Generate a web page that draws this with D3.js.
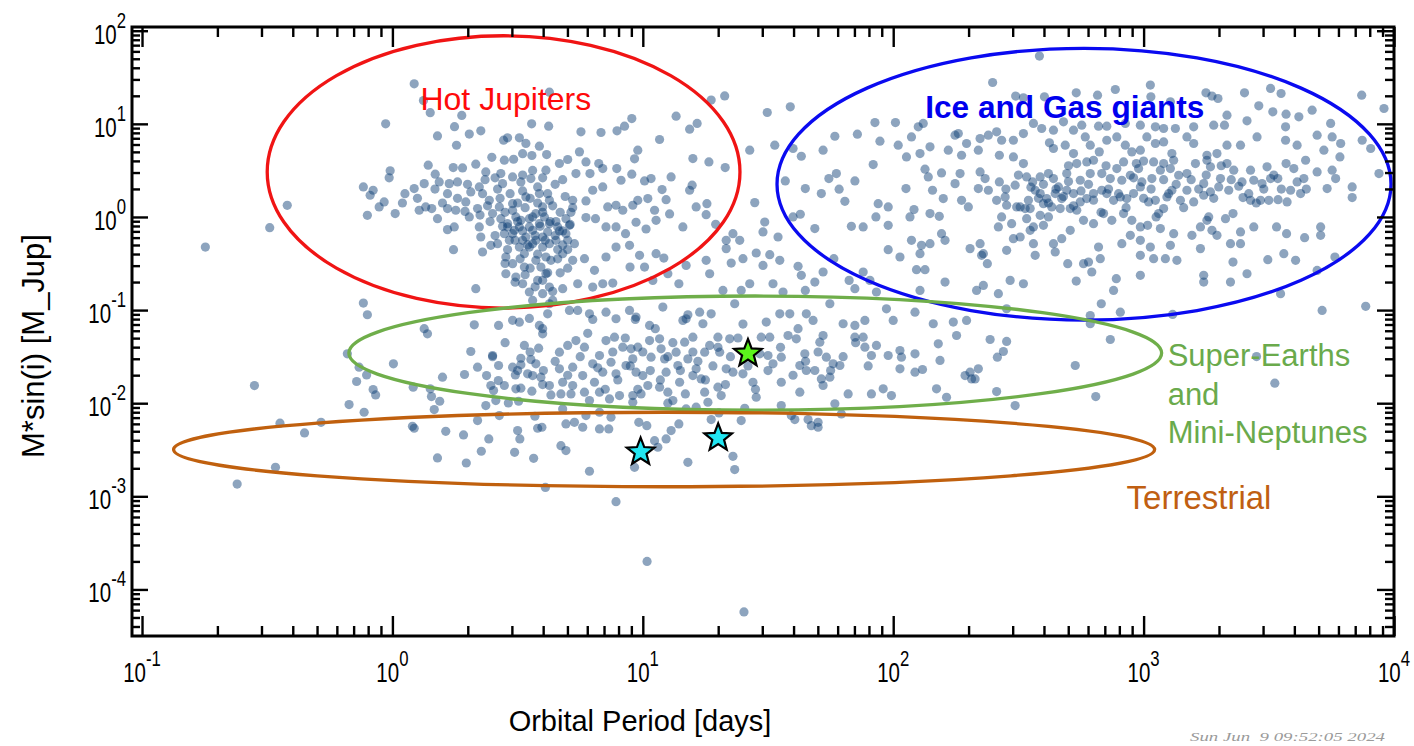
<!DOCTYPE html>
<html><head><meta charset="utf-8">
<script src="https://cdn.jsdelivr.net/npm/d3@7"></script>
<style>body{margin:0;background:#fff}svg{display:block}</style>
</head><body><svg id="c" width="1414" height="746"></svg>
<script>
// ---------- tick labels (decade exponents) ----------
const xTickExponents = [-1, 0, 1, 2, 3, 4];
const yTickExponents = [-4, -3, -2, -1, 0, 1, 2];

// ---------- planets: [log10(period in days), log10(M sin i in M_Jup)] ----------
const hotJupiterZone = [[0.087,1.43],[-0.027,1.00],[0.151,1.12],[0.124,1.25],[0.248,0.97],[0.277,1.09],[0.307,0.89],[0.18,0.87],[0.353,0.925],[0.256,0.77],[0.556,1.00],[0.624,0.975],[0.627,1.34],[0.444,0.825],[0.507,0.85],[0.533,0.79],[0.587,0.76],[0.46,0.85],[0.397,0.64],[0.447,0.61],[0.484,0.62],[0.52,0.68],[0.557,0.66],[0.616,0.67],[0.333,0.567],[0.373,0.484],[0.143,0.556],[0.243,0.53],[0.28,0.527],[0.171,0.459],[-0.009,0.495],[-0.013,0.42],[-0.116,0.323],[-0.077,0.287],[-0.089,0.233],[-0.033,0.161],[-0.053,0.108],[-0.1,0.018],[0.011,0.036],[0.04,0.15],[0.087,0.305],[0.127,0.358],[0.187,0.376],[0.227,0.358],[0.26,0.376],[0.133,0.108],[0.107,0.072],[0.157,0.09],[0.18,-0.018],[0.22,0.09],[0.253,0.072],[0.22,-0.136],[0.247,-0.107],[0.244,-0.351],[0.293,0.161],[0.307,0.0],[0.34,0.09],[0.347,-0.107],[0.353,-0.215],[0.36,-0.376],[0.393,-0.305],[0.333,-0.77],[0.313,0.269],[0.347,0.323],[0.387,0.179],[0.427,0.108],[0.40,0.036],[0.433,-0.018],[0.46,-0.072],[0.487,-0.143],[0.513,-0.036],[0.547,-0.107],[0.573,0.036],[0.60,0.108],[0.627,0.179],[0.627,-0.072],[0.44,0.358],[0.433,0.466],[0.48,0.43],[0.513,0.376],[0.553,0.412],[0.58,0.323],[0.613,0.502],[0.587,0.251],[0.533,0.215],[0.48,0.143],[0.447,-0.179],[0.42,-0.287],[0.467,-0.251],[0.507,-0.323],[0.56,-0.287],[0.60,-0.215],[0.573,-0.466],[0.613,-0.43],[0.453,-0.43],[0.48,-0.502],[0.527,-0.538],[0.453,-0.61],[0.493,-0.645],[0.52,-0.717],[0.547,-0.806],[0.58,-0.681],[0.613,-0.61],[0.56,-0.896],[0.60,-0.824],[0.627,-0.753],[0.627,-0.932],[0.62,-1.04],[0.48,-1.11],[0.507,-1.13],[0.547,-1.09],[0.587,-1.165],[0.424,-1.165],[0.327,-1.158],[-0.116,-0.925],[-0.1,-1.05],[0.127,-1.2],[-0.42,0.125],[-0.49,-0.115],[-0.747,-0.323],[0.46,-0.107],[0.48,-0.179],[0.507,-0.107],[0.533,-0.215],[0.56,-0.143],[0.587,-0.072],[0.62,-0.161],[0.52,-0.251],[0.547,-0.323],[0.573,-0.251],[0.60,-0.323],[0.627,-0.287],[0.493,0.0],[0.547,-0.018],[0.607,0.0],[0.527,-0.394],[0.593,-0.538],[0.633,-0.466]];

const hotJupiterCore = [[0.36,0.25],[0.38,0.12],[0.39,-0.05],[0.41,-0.2],[0.42,0.3],[0.43,0.2],[0.44,-0.1],[0.45,0.05],[0.46,-0.35],[0.47,0.25],[0.48,0.07],[0.49,-0.25],[0.5,0.15],[0.5,-0.05],[0.51,-0.45],[0.52,0.28],[0.52,-0.15],[0.53,0.1],[0.54,-0.3],[0.55,0.2],[0.55,-0.55],[0.56,0.0],[0.57,-0.2],[0.58,0.15],[0.58,-0.4],[0.59,-0.1],[0.6,0.05],[0.61,-0.25],[0.62,0.25],[0.62,-0.6],[0.63,-0.05],[0.64,0.12],[0.65,-0.2],[0.66,-0.45],[0.67,0.05],[0.68,-0.15],[0.69,0.22],[0.7,-0.35],[0.71,-0.08],[0.72,0.1],[0.45,-0.5],[0.49,-0.7],[0.53,-0.62],[0.57,-0.75],[0.6,-0.68],[0.64,-0.8],[0.67,-0.6],[0.7,-0.55],[0.37,0.4],[0.41,0.42],[0.52,0.45],[0.56,0.5],[0.6,0.42],[0.65,0.35],[0.68,0.4],[0.3,0.35],[0.26,0.2],[0.22,0.25],[0.17,0.3],[0.1,0.2],[0.05,0.25],[0.2,0.15],[0.35,0.02],[0.29,0.06]];

const warmZone = [[1.327,1.30],[1.273,1.255],[1.497,1.122],[1.589,1.183],[1.133,1.082],[0.956,1.057],[0.927,0.975],[0.897,0.925],[0.833,0.907],[0.753,0.914],[1.217,1.004],[1.187,0.943],[1.067,0.832],[0.98,0.717],[0.967,0.624],[0.747,0.699],[0.70,0.617],[0.667,0.574],[0.773,0.591],[0.824,0.574],[0.84,0.52],[0.733,0.466],[0.789,0.466],[0.896,0.52],[0.956,0.459],[0.913,0.394],[0.80,0.287],[0.84,0.323],[0.72,0.179],[0.773,0.172],[0.86,0.108],[0.893,0.126],[0.92,0.072],[0.96,0.126],[1.007,0.387],[1.033,0.412],[1.077,0.294],[1.093,0.186],[1.113,0.43],[1.187,0.287],[1.197,0.341],[1.20,0.627],[1.264,0.591],[1.329,0.53],[1.256,0.143],[1.213,0.108],[1.253,0.025],[1.291,-0.079],[1.16,-0.107],[1.107,0.033],[1.047,0.072],[1.02,0.197],[0.98,0.179],[1.053,-0.036],[1.013,-0.129],[0.973,-0.057],[0.931,-0.179],[0.893,-0.107],[0.853,-0.107],[0.811,-0.018],[0.773,-0.007],[0.693,-0.018],[0.66,-0.107],[0.653,-0.251],[0.693,-0.179],[0.727,-0.287],[0.68,-0.394],[0.72,-0.466],[0.767,-0.448],[0.807,-0.573],[0.853,-0.43],[0.893,-0.323],[0.947,-0.305],[0.987,-0.412],[0.949,-0.538],[1.007,-0.538],[1.053,-0.394],[1.084,-0.441],[1.10,-0.61],[1.04,-0.681],[0.88,-0.71],[0.84,-0.717],[0.80,-0.753],[0.74,-0.717],[0.68,-0.77],[0.64,-0.896],[1.173,-0.52],[1.144,-0.717],[1.253,-0.466],[1.267,-0.61],[1.333,-0.251],[1.36,-0.179],[1.333,-0.34],[1.387,-0.251],[1.427,0.717],[1.447,0.154],[1.48,-0.161],[1.487,-0.054],[1.54,-0.215],[1.527,0.771],[1.569,0.387],[1.60,0.735],[1.633,0.652],[1.649,0.305],[1.60,0.0],[1.629,0.029],[1.687,-0.125],[1.453,-0.387],[1.507,-0.405],[1.547,-0.466],[1.48,-0.52],[1.40,-0.448],[1.353,-0.495],[1.427,-0.717],[1.393,-0.789],[1.32,-0.789],[1.52,-0.717],[1.56,-0.806],[1.62,-0.53],[1.633,-0.627],[1.649,-0.789],[1.687,-0.699],[1.72,-0.591],[1.763,-0.448],[1.72,0.717],[1.767,0.867],[1.743,0.412],[1.773,0.466],[1.784,0.298],[1.713,0.251],[1.807,0.168],[1.847,0.387],[1.857,0.889],[1.927,1.014],[1.947,0.814],[1.92,0.563],[2.009,1.014],[2.02,0.771],[2.053,0.645],[2.073,0.86],[2.10,0.968],[2.12,1.004],[2.147,0.753],[2.107,0.681],[2.051,0.305],[2.127,0.513],[2.14,0.43],[2.157,0.287],[2.193,0.473],[2.20,0.197],[2.22,0.717],[2.247,0.878],[2.26,0.896],[2.293,0.789],[2.273,0.663],[2.267,0.466],[2.247,0.358],[2.273,0.179],[2.30,0.108],[1.94,0.143],[1.98,0.108],[2.083,0.079],[2.067,0.0],[2.147,0.036],[2.184,0.007],[1.931,0.0],[1.833,-0.1],[1.88,-0.107],[1.98,-0.09],[2.193,-0.179],[2.207,-0.251],[2.073,-0.251],[2.113,-0.305],[2.147,-0.287],[1.98,-0.351],[2.027,-0.43],[2.107,-0.394],[1.88,-0.591],[1.824,-0.681],[1.907,-0.681],[1.847,-0.77],[2.093,-0.566],[2.127,-0.566],[2.207,-0.699],[2.107,-0.789],[1.933,-0.806],[2.307,-0.34],[0.653,-0.05],[0.667,-0.15],[0.68,-0.3],[0.707,-0.09],[0.7,-0.25],[0.66,-0.35],[0.713,0.05]];

const upperBand = [[0.707,-1.004],[0.74,-1.004],[0.787,-1.04],[0.853,-1.022],[0.893,-1.093],[0.947,-1.004],[0.973,-1.075],[1.08,-0.968],[1.173,-1.093],[1.227,-1.022],[1.24,-1.147],[1.273,-1.04],[1.367,-0.932],[1.493,-1.129],[1.547,-1.04],[1.587,-1.04],[1.653,-1.04],[1.68,-1.111],[1.747,-0.932],[1.80,-1.147],[1.847,-1.165],[1.887,-1.111],[1.973,-0.986],[2.0,-1.111],[2.087,-1.022],[2.16,-1.147],[2.24,-1.129],[2.293,-1.111],[1.027,-1.165],[1.16,-1.111]];

const giantZone = [[2.584,1.728],[2.397,1.444],[2.489,1.298],[2.52,1.28],[2.604,1.29],[2.731,1.333],[2.816,1.308],[2.887,1.369],[3.027,1.416],[3.029,1.29],[3.107,1.237],[3.249,1.333],[3.273,1.298],[3.297,1.272],[3.403,1.333],[3.507,1.38],[3.549,1.326],[3.871,1.308],[3.96,1.165],[3.46,1.194],[3.516,1.129],[3.569,1.104],[3.62,1.075],[3.673,1.147],[3.333,1.093],[3.413,1.032],[3.28,0.986],[3.323,0.986],[3.20,0.968],[3.127,0.95],[3.08,0.95],[3.047,0.968],[2.987,0.986],[2.927,1.004],[2.853,0.975],[2.82,0.975],[2.753,0.986],[2.72,0.932],[2.68,1.022],[2.64,0.932],[2.593,0.95],[2.56,1.004],[2.52,0.896],[2.48,0.824],[2.433,0.824],[2.413,0.914],[2.38,0.878],[2.347,0.842],[2.34,0.717],[2.424,0.663],[2.48,0.645],[2.52,0.573],[2.347,0.484],[2.367,0.412],[2.424,0.376],[2.487,0.341],[2.533,0.43],[2.557,0.376],[2.587,0.43],[2.62,0.466],[2.64,0.412],[2.66,0.323],[2.693,0.466],[2.624,0.796],[2.64,0.735],[2.687,0.771],[2.72,0.681],[2.767,0.86],[2.787,0.771],[2.823,0.699],[2.853,0.824],[2.893,0.86],[2.927,0.771],[2.953,0.699],[2.987,0.717],[3.013,0.86],[3.047,0.789],[3.08,0.806],[3.113,0.681],[3.173,0.86],[3.20,0.789],[3.253,0.663],[3.293,0.681],[3.333,0.771],[3.387,0.771],[3.453,0.86],[3.567,0.968],[3.567,0.824],[3.613,0.771],[3.693,0.878],[3.753,0.86],[3.787,0.789],[3.72,0.717],[3.747,1.004],[3.873,0.824],[3.907,0.735],[3.94,0.466],[3.784,0.645],[3.753,0.502],[3.767,0.412],[3.693,0.484],[3.733,0.305],[3.833,0.323],[3.833,0.208],[3.647,0.609],[3.64,0.412],[3.613,0.376],[3.587,0.287],[3.627,0.251],[3.573,0.161],[3.569,0.573],[3.536,0.412],[3.507,0.412],[3.493,0.538],[3.473,0.358],[3.44,0.394],[3.427,0.502],[3.393,0.376],[3.397,0.208],[3.427,0.179],[3.467,0.179],[3.5,0.179],[3.537,0.186],[3.36,0.502],[3.333,0.573],[3.307,0.412],[3.267,0.538],[3.253,0.609],[3.207,0.573],[3.173,0.466],[3.14,0.448],[3.107,0.52],[3.067,0.502],[3.033,0.412],[2.993,0.376],[2.98,0.52],[2.947,0.448],[2.913,0.394],[2.893,0.52],[2.867,0.412],[2.833,0.466],[2.787,0.466],[2.747,0.394],[2.733,0.573],[2.773,0.591],[2.80,0.609],[2.92,0.591],[2.971,0.573],[3.04,0.591],[3.08,0.573],[3.12,0.609],[3.34,0.287],[3.30,0.323],[3.267,0.269],[3.24,0.233],[3.20,0.161],[3.24,0.358],[3.173,0.287],[3.147,0.179],[3.113,0.287],[3.093,0.215],[3.08,0.09],[3.047,0.179],[3.02,0.161],[2.987,0.323],[2.96,0.251],[2.933,0.197],[2.907,0.215],[2.88,0.179],[2.853,0.251],[2.833,0.287],[2.80,0.251],[2.773,0.197],[2.747,0.161],[2.72,0.251],[2.693,0.287],[2.673,0.197],[2.647,0.251],[2.613,0.197],[2.587,0.251],[2.567,0.287],[2.54,0.179],[2.507,0.108],[2.527,0.09],[2.547,0.09],[2.60,0.143],[2.633,0.108],[2.667,0.09],[2.707,0.09],[2.733,0.072],[2.447,0.215],[2.413,0.179],[2.38,0.287],[2.34,0.305],[2.453,0.126],[2.493,0.108],[2.433,0.0],[2.473,-0.072],[2.533,-0.018],[2.587,0.018],[2.62,0.0],[2.56,-0.107],[2.6,-0.09],[2.42,-0.107],[2.507,-0.215],[2.547,-0.143],[2.48,-0.233],[2.56,-0.287],[2.64,-0.287],[2.673,-0.233],[2.707,-0.143],[2.76,-0.036],[2.80,-0.072],[2.84,0.036],[2.873,-0.036],[2.92,0.036],[2.953,-0.036],[2.987,-0.107],[3.016,-0.09],[3.06,0.036],[3.067,-0.125],[3.12,-0.179],[3.193,-0.197],[3.227,-0.107],[3.253,-0.036],[3.273,-0.143],[3.26,0.0],[3.327,-0.018],[3.357,0.036],[3.387,-0.161],[3.44,-0.107],[3.347,-0.287],[3.293,-0.197],[3.227,-0.34],[3.387,-0.287],[3.531,-0.107],[3.571,-0.179],[3.643,-0.222],[3.707,-0.107],[3.707,-0.197],[3.56,-0.394],[3.607,-0.466],[3.496,-0.459],[3.764,-0.43],[3.357,-0.484],[3.413,-0.61],[3.347,-0.699],[3.24,-0.627],[3.24,-0.699],[3.133,-0.466],[3.087,-0.448],[3.04,-0.448],[2.987,-0.412],[3.027,-0.323],[3.107,-0.305],[2.947,-0.197],[2.987,-0.251],[2.913,-0.287],[2.82,-0.323],[2.827,-0.448],[2.78,-0.484],[2.76,-0.502],[2.793,-0.591],[2.697,-0.502],[2.647,-0.376],[2.567,-0.412],[2.453,-0.358],[2.36,-0.394],[2.353,-0.412],[2.376,-0.502],[2.347,-0.287],[2.467,-0.681],[2.52,-0.717],[2.36,-0.735],[2.333,-0.789],[2.42,-0.824],[2.731,-0.688],[2.891,-0.663],[2.88,-0.789],[2.987,-0.627],[2.831,-0.932],[2.907,-1.022],[2.787,-1.058],[2.787,-1.147],[3.116,-1.047],[3.547,-0.824],[3.693,-0.574],[3.713,-1.004],[3.887,-0.96],[2.453,-0.986]];

const giantCore = [[2.55,0.32],[2.58,0.2],[2.6,0.35],[2.62,0.15],[2.65,0.3],[2.68,0.22],[2.7,0.38],[2.72,0.12],[2.75,0.28],[2.78,0.35],[2.8,0.18],[2.83,0.05],[2.86,0.3],[2.9,0.25],[2.93,0.1],[2.96,0.42],[3.0,0.2],[3.03,0.3],[3.05,0.0],[3.08,0.4],[3.1,0.25],[3.13,0.35],[3.16,0.1],[3.19,0.4],[3.22,0.3],[3.25,0.45],[3.28,0.2],[3.31,0.55],[3.35,0.4],[3.38,0.33],[3.42,0.25],[3.45,0.15],[3.48,0.3],[3.52,0.45],[3.55,0.3],[3.6,0.52],[3.65,0.3],[2.5,0.45],[2.45,0.3],[2.85,0.55],[3.0,0.6],[2.7,0.55]];

const lowLeft = [[-0.551,-1.811],[-0.449,-2.215],[-0.351,-2.319],[-0.285,-2.205],[-0.467,-2.689],[-0.62,-2.868],[-0.18,-1.47],[-0.133,-1.613],[-0.103,-1.696],[-0.143,-1.767],[-0.077,-1.853],[-0.067,-1.911],[-0.173,-2.015],[-0.113,-2.097],[0.004,-1.577],[0.083,-1.828],[0.08,-2.248],[0.087,-2.269],[0.151,-1.846],[0.156,-1.929],[0.189,-1.979],[0.167,-2.068],[0.213,-2.302],[0.18,-2.588],[0.284,-2.341],[0.295,-2.642],[0.355,-2.516],[0.385,-2.384],[0.34,-2.187],[0.373,-2.025],[0.427,-2.133],[0.20,-1.721],[0.288,-1.692],[0.313,-1.445],[0.34,-1.613],[0.376,-1.703],[0.40,-1.488],[0.424,-1.595],[0.393,-1.81],[0.404,-1.864],[0.423,-1.757],[0.447,-1.81],[0.413,-1.972],[0.463,-1.997],[0.48,-1.613],[0.491,-1.696],[0.513,-1.588],[0.527,-1.38],[0.513,-1.517],[0.553,-1.531],[0.573,-1.577],[0.584,-1.409],[0.54,-1.685],[0.56,-1.703],[0.593,-1.721],[0.603,-1.649],[0.493,-1.846],[0.513,-1.839],[0.557,-1.871],[0.504,-1.979],[0.627,-1.81],[0.633,-1.911],[0.50,-2.294],[0.509,-2.384],[0.488,-2.527],[0.564,-2.592],[0.58,-2.269],[0.597,-2.258],[0.569,-2.14],[0.611,-2.904],[0.14,-1.255],[0.60,-1.255]];

const lowMid = [[0.667,-1.452],[0.70,-1.38],[0.733,-1.327],[0.767,-1.398],[0.667,-1.631],[0.72,-1.613],[0.76,-1.703],[0.68,-1.775],[0.72,-1.81],[0.673,-1.9],[0.713,-1.9],[0.767,-1.882],[0.80,-1.577],[0.827,-1.488],[0.853,-1.327],[0.887,-1.291],[0.92,-1.398],[0.953,-1.416],[0.98,-1.398],[0.873,-1.56],[0.84,-1.667],[0.807,-1.775],[0.827,-1.882],[0.787,-1.972],[0.867,-1.954],[0.907,-1.918],[0.893,-1.685],[0.933,-1.595],[0.96,-1.524],[0.973,-1.667],[1.0,-1.703],[1.02,-1.81],[0.993,-1.9],[0.96,-1.918],[0.96,-1.99],[1.033,-1.506],[1.027,-1.327],[1.067,-1.309],[1.073,-1.416],[1.087,-1.524],[1.093,-1.667],[1.067,-1.828],[1.10,-1.882],[1.12,-1.972],[1.147,-1.775],[1.14,-1.595],[1.133,-1.452],[1.167,-1.345],[1.18,-1.524],[1.20,-1.291],[1.213,-1.631],[1.20,-1.703],[1.233,-1.739],[1.247,-1.452],[1.247,-1.882],[1.30,-1.828],[1.313,-1.918],[1.26,-1.99],[1.213,-2.043],[1.173,-2.061],[1.267,-1.38],[1.307,-1.452],[1.333,-1.631],[1.36,-1.667],[1.40,-1.685],[1.44,-1.775],[1.453,-1.936],[1.30,-1.291],[1.347,-1.309],[1.473,-1.291],[1.507,-1.291],[1.467,-1.47],[1.50,-1.488],[1.52,-1.577],[1.553,-1.506],[1.553,-1.775],[1.58,-1.273],[1.613,-1.309],[1.627,-1.595],[1.653,-1.649],[1.647,-1.47],[1.627,-1.882],[1.687,-1.649],[1.707,-1.345],[1.72,-1.273],[1.733,-1.506],[1.713,-1.739],[1.72,-1.81],[1.747,-1.721],[1.76,-1.577],[1.787,-1.595],[1.767,-2.007],[1.82,-1.9],[1.847,-1.291],[1.88,-1.291],[1.887,-1.398],[1.913,-1.488],[1.933,-1.38],[1.913,-1.9],[1.96,-1.846],[1.993,-1.918],[1.98,-1.488],[2.027,-1.434],[2.033,-1.506],[2.027,-1.631],[2.087,-1.47],[2.087,-1.667],[2.117,-1.638],[2.173,-1.846],[2.187,-1.541],[2.18,-1.362],[2.213,-1.936],[2.253,-1.273],[2.287,-1.703],[2.307,-1.667],[2.313,-1.739],[1.593,-2.133],[1.607,-2.176],[1.66,-2.176],[1.673,-2.241],[1.70,-2.205],[1.70,-2.258],[1.793,-2.115],[1.553,-2.025],[1.393,-2.187],[1.407,-2.054],[1.304,-2.104],[1.273,-2.176],[0.693,-2.223],[0.727,-2.205],[0.76,-2.258],[0.827,-2.276],[0.864,-2.276],[0.873,-2.151],[0.827,-2.097],[0.773,-2.133],[0.68,-2.061],[0.984,-2.205],[1.016,-2.241],[1.047,-2.402],[1.06,-2.473],[1.093,-2.384],[1.113,-2.294],[1.144,-2.223],[0.673,-2.456],[0.693,-2.509],[0.787,-2.731],[0.967,-2.689],[1.18,-2.635],[1.36,-2.57],[1.367,-2.713],[0.893,-3.058],[1.017,-3.699],[1.404,-4.241]];

const superEarthCore = [[0.4,-1.5],[0.45,-1.35],[0.5,-1.65],[0.55,-1.45],[0.6,-1.8],[0.65,-1.55],[0.7,-1.7],[0.75,-1.5],[0.78,-1.25],[0.82,-1.62],[0.85,-1.85],[0.88,-1.45],[0.9,-1.75],[0.93,-1.3],[0.95,-1.6],[0.98,-1.85],[1.0,-1.45],[1.03,-1.65],[1.05,-1.2],[1.07,-1.75],[1.1,-1.5],[1.12,-1.35],[1.15,-1.65],[1.17,-1.9],[1.2,-1.45],[1.22,-1.55],[1.25,-1.75],[1.28,-1.6],[1.3,-1.4],[1.33,-1.8],[1.35,-1.5],[1.38,-1.3],[1.42,-1.6],[1.45,-1.85],[1.5,-1.65],[1.55,-1.4],[1.6,-1.7],[1.65,-1.55],[1.7,-1.45],[1.75,-1.65],[1.8,-1.5],[1.85,-1.35],[1.9,-1.6],[0.97,-1.1],[1.18,-1.05],[1.4,-1.15],[0.6,-1.2],[0.8,-1.1],[1.62,-1.2],[1.1,-2.0]];

const lowRight = [[2.387,-1.316],[2.453,-1.337],[2.44,-1.445],[2.416,-1.506],[2.34,-1.631],[2.327,-1.739],[2.413,-1.875],[2.487,-2.025],[2.727,-1.595],[2.809,-1.929],[2.867,-1.316],[3.451,-1.499],[3.524,-1.785]];

// ---------- highlighted planets (stars): period [days], mass [M_Jup] ----------
const starPeriods = [26.3, 9.8, 20.0];
const starMasses  = [0.0355, 0.0031, 0.0044];
const starFills   = ["#5cf51c", "#22e6f2", "#22e6f2"];

// ---------- population regions: centres and half-axes in decades ----------
const regionNames      = ["Hot Jupiters", "Ice and Gas giants", "Super-Earths and Mini-Neptunes", "Terrestrial"];
const regionCenterLogP = [0.444, 2.762, 1.449, 1.085];
const regionCenterLogM = [0.484, 0.352, -1.462, -2.497];
const regionHalfLogP   = [0.944, 1.226, 1.623, 1.959];
const regionHalfLogM   = [1.462, 1.459, 0.613, 0.400];
const regionColors     = ["#f01414", "#0a0af0", "#6fae4a", "#c0600e"];

// ---------- region labels: anchor position (log10 P, log10 M) ----------
const labelLines  = [["Hot Jupiters"], ["Ice and Gas giants"], ["Super-Earths", "and", "Mini-Neptunes"], ["Terrestrial"]];
const labelLogP   = [0.112, 2.128, 3.096, 2.932];
const labelLogM   = [1.151, 1.065, -1.602, -3.14];
const labelColors = ["#ff0a0a", "#0000ee", "#6aaa4c", "#c05f12"];
const labelWeight = ["normal", "bold", "normal", "normal"];
const labelSizes  = [32, 31.6, 31, 33];

// ================= drawing =================
const svg = d3.select("#c");
const plot = {left: 132, right: 1394, top: 27, bottom: 636};
const x = d3.scaleLog().domain([Math.pow(10, -1.04), 1e4]).range([plot.left, plot.right]);
const y = d3.scaleLog().domain([Math.pow(10, -4.5), Math.pow(10, 2.04)]).range([plot.bottom, plot.top]);
const FONT = "'Liberation Sans', Arial, Helvetica, sans-serif";

const planets = [].concat(hotJupiterZone, hotJupiterCore, warmZone, upperBand, giantZone, giantCore, lowLeft, lowMid, superEarthCore, lowRight)
  .map(d => ({P: Math.pow(10, d[0]), M: Math.pow(10, d[1])}));

svg.append("defs").append("clipPath").attr("id", "clip")
  .append("rect").attr("x", plot.left).attr("y", plot.top)
  .attr("width", plot.right - plot.left).attr("height", plot.bottom - plot.top);

// points
svg.append("g").attr("clip-path", "url(#clip)")
  .selectAll("circle").data(planets).join("circle")
  .attr("cx", d => x(d.P)).attr("cy", d => y(d.M)).attr("r", 4.6)
  .attr("fill", "#0d3d75").attr("fill-opacity", 0.47);

// ellipses
const regions = regionNames.map((n, i) => ({
  cx: x(Math.pow(10, regionCenterLogP[i])),
  cy: y(Math.pow(10, regionCenterLogM[i])),
  rx: x(Math.pow(10, regionCenterLogP[i] + regionHalfLogP[i])) - x(Math.pow(10, regionCenterLogP[i])),
  ry: y(Math.pow(10, regionCenterLogM[i])) - y(Math.pow(10, regionCenterLogM[i] + regionHalfLogM[i])),
  color: regionColors[i]
}));
svg.append("g").selectAll("ellipse").data(regions).join("ellipse")
  .attr("cx", d => d.cx).attr("cy", d => d.cy).attr("rx", d => d.rx).attr("ry", d => d.ry)
  .attr("fill", "none").attr("stroke", d => d.color).attr("stroke-width", 3.3);

// region labels
labelLines.forEach((lines, i) => {
  const t = svg.append("text")
    .attr("x", x(Math.pow(10, labelLogP[i]))).attr("y", y(Math.pow(10, labelLogM[i])))
    .attr("font-family", FONT).attr("font-size", labelSizes[i])
    .attr("font-weight", labelWeight[i]).attr("fill", labelColors[i]);
  lines.forEach((ln, k) => {
    t.append("tspan").attr("x", x(Math.pow(10, labelLogP[i]))).attr("dy", k === 0 ? 0 : 38.5).text(ln);
  });
});

// stars
const starPath = (R, r) => {
  const pts = [];
  for (let k = 0; k < 10; k++) {
    const rad = k % 2 === 0 ? R : r;
    const a = -Math.PI / 2 + k * Math.PI / 5;
    pts.push([rad * Math.cos(a), rad * Math.sin(a)]);
  }
  return "M" + pts.map(p => p[0].toFixed(2) + "," + p[1].toFixed(2)).join("L") + "Z";
};
svg.append("g").selectAll("path").data(starPeriods.map((p, i) => ({P: p, M: starMasses[i], fill: starFills[i]})))
  .join("path")
  .attr("transform", d => `translate(${x(d.P)},${y(d.M) + 1.5})`)
  .attr("d", starPath(14.5, 6.2))
  .attr("fill", d => d.fill).attr("stroke", "#000").attr("stroke-width", 2.2).attr("stroke-linejoin", "miter");

// axes: ticks inward on all four sides
const majorX = xTickExponents.map(e => Math.pow(10, e));
const minorX = [];
for (let e = -1; e < 4; e++) for (let m = 2; m <= 9; m++) minorX.push(m * Math.pow(10, e));
const majorY = yTickExponents.map(e => Math.pow(10, e));
const minorY = [];
for (let e = -5; e < 2; e++) for (let m = 2; m <= 9; m++) {
  const v = m * Math.pow(10, e);
  if (v >= y.domain()[0] && v <= y.domain()[1]) minorY.push(v);
}
const styleAxis = g => {
  g.select(".domain").remove();
  g.selectAll("line").attr("stroke", "#000").attr("stroke-width", 2.4);
  g.selectAll("text").remove();
};
svg.append("g").attr("transform", `translate(0,${plot.bottom})`).call(d3.axisBottom(x).tickValues(majorX).tickSize(-20)).call(styleAxis);
svg.append("g").attr("transform", `translate(0,${plot.bottom})`).call(d3.axisBottom(x).tickValues(minorX).tickSize(-10)).call(styleAxis);
svg.append("g").attr("transform", `translate(0,${plot.top})`).call(d3.axisTop(x).tickValues(majorX).tickSize(-20)).call(styleAxis);
svg.append("g").attr("transform", `translate(0,${plot.top})`).call(d3.axisTop(x).tickValues(minorX).tickSize(-10)).call(styleAxis);
svg.append("g").attr("transform", `translate(${plot.left},0)`).call(d3.axisLeft(y).tickValues(majorY).tickSize(-16)).call(styleAxis);
svg.append("g").attr("transform", `translate(${plot.left},0)`).call(d3.axisLeft(y).tickValues(minorY).tickSize(-8)).call(styleAxis);
svg.append("g").attr("transform", `translate(${plot.right},0)`).call(d3.axisRight(y).tickValues(majorY).tickSize(-17)).call(styleAxis);
svg.append("g").attr("transform", `translate(${plot.right},0)`).call(d3.axisRight(y).tickValues(minorY).tickSize(-9)).call(styleAxis);

// frame
svg.append("rect").attr("x", plot.left).attr("y", plot.top)
  .attr("width", plot.right - plot.left).attr("height", plot.bottom - plot.top)
  .attr("fill", "none").attr("stroke", "#000").attr("stroke-width", 3);

// tick labels with superscript exponents (narrow face)
const powLabel = (g, e, anchor) => {
  const t = g.append("text").attr("font-family", FONT).attr("text-anchor", anchor).attr("fill", "#000");
  t.append("tspan").attr("font-size", 27).text("10");
  t.append("tspan").attr("font-size", 22).attr("dy", -16).text(String(e));
};
xTickExponents.forEach(e => {
  const g = svg.append("g").attr("transform", `translate(${x(Math.pow(10, e))},${plot.bottom + 46}) scale(0.76,1)`);
  powLabel(g, e, "middle");
});
yTickExponents.forEach(e => {
  const g = svg.append("g").attr("transform", `translate(126,${y(Math.pow(10, e)) + 13}) scale(0.76,1)`);
  powLabel(g, e, "end");
});

// axis titles
svg.append("text").attr("x", 640).attr("y", 731).attr("text-anchor", "middle")
  .attr("font-family", FONT).attr("font-size", 29).attr("fill", "#000").text("Orbital Period [days]");
svg.append("text").attr("transform", "translate(44,346) rotate(-90)").attr("text-anchor", "middle")
  .attr("font-family", FONT).attr("font-size", 31).attr("fill", "#000").text("M*sin(i) [M_Jup]");

// timestamp
svg.append("text").attr("x", 1190).attr("y", 741).attr("font-family", "'Liberation Serif', 'Times New Roman', serif")
  .attr("font-style", "italic").attr("font-size", 12).attr("fill", "#9a9a9a")
  .attr("textLength", 195).attr("lengthAdjust", "spacingAndGlyphs").attr("xml:space", "preserve")
  .text("Sun Jun  9 09:52:05 2024");
</script></body></html>
